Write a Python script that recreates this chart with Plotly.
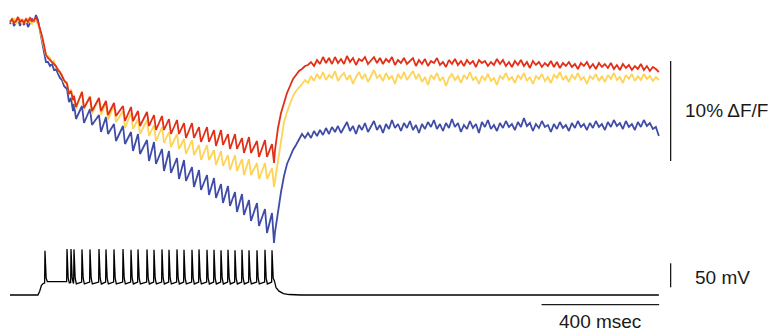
import numpy as np
import plotly.graph_objects as go

# ---------------- data ----------------
# Fluorescence, % dF/F.  Segment 1: 0 .. 183.7 ms (before the spike train)
RED_PRE = [-0.2, 0.1, -0.3, -0.1, 0.3, -0.2, 0.0, -0.3, 0.1, -0.2, 0.2, -0.1, 0.0, 0.3, -0.2,
           -0.8, -1.6, -2.5, -3.5, -3.8, -4.0, -4.2, -4.3, -4.6, -5.0, -5.2, -5.6, -6.0]
YEL_PRE = [0.0, -0.3, 0.2, -0.4, -0.1, 0.1, -0.4, 0.0, -0.3, 0.2, -0.2, -0.4, 0.1, -0.1, -0.4,
           -1.0, -1.8, -2.8, -3.6, -3.6, -3.8, -4.3, -4.1, -4.8, -4.9, -5.4, -5.5, -6.2]
BLU_PRE = [-0.4, 0.0, -0.6, -0.2, 0.1, -0.6, -0.1, -0.5, 0.0, -0.7, -0.3, 0.1, -0.2, 0.5, 0.0,
           -1.2, -2.2, -3.2, -4.2, -4.2, -4.6, -4.4, -5.0, -4.9, -5.4, -5.8, -6.0, -6.6]

# Spike times (ms) and membrane potential values (mV)
SPIKE_T = [119.0, 193.9, 207.5, 217.7, 244.9, 272.1, 302.7, 326.5, 353.7, 384.4,
           411.6, 435.4, 466.0, 489.8, 517.0, 540.8, 568.0, 591.8, 619.0, 642.9,
           670.1, 693.9, 717.7, 741.5, 765.3, 789.1, 812.9, 840.1, 867.3, 891.2]
SPIKE_PEAK = [22, 26, 26, 25, 25, 25, 26, 25, 25, 26, 24, 25, 25, 24, 25,
              24, 25, 24, 24, 25, 24, 24, 23, 24, 23, 24, 23, 23, 24, 23]
SPIKE_THRESH = [-45, -42, -44, -44, -43, -43, -43, -43, -43, -43, -43, -43, -43, -43, -43,
                -43, -43, -43, -43, -43, -43, -43, -43, -43, -43, -43, -43, -43, -43, -43]
SPIKE_AHP = [-42, -45, -46, -47, -47, -47, -47, -47, -47, -47, -47, -47, -47, -47, -47,
             -47, -47, -47, -47, -47, -47, -47, -47, -47, -47, -47, -47, -47, -47, -40]
SPIKE_SHOULDER = [-15, -35]
V_PRE_T = [0, 30, 60, 95, 101, 107, 113, 117]
V_PRE_MV = [-70, -70, -70, -70, -62, -50, -46, -45]
V_POST_T = [905, 915, 930, 950, 990, 1400, 1800, 2207]
V_POST_MV = [-55, -62, -67, -69, -70, -70, -70, -70]

# Fluorescence at each spike of the train: value at spike onset and just after it
RED_PK = [-6.4, -7.1, -7.6, -7.2, -7.7, -7.8, -8.1, -8.3, -8.6, -8.7, -9.1, -9.2, -9.5, -9.6, -9.9,
          -10.0, -10.3, -10.3, -10.7, -10.7, -11.0, -11.0, -11.4, -11.4, -11.8, -11.7, -12.1, -12.0, -12.4]
RED_TR = [-7.4, -8.0, -8.7, -8.8, -9.1, -9.1, -9.5, -9.6, -10.1, -10.1, -10.6, -10.6, -11.0, -11.0, -11.4,
          -11.4, -11.8, -11.8, -12.2, -12.2, -12.6, -12.5, -12.9, -12.9, -13.3, -13.3, -13.7, -13.7, -14.3]
YEL_PK = [-6.2, -6.9, -7.5, -7.1, -7.6, -7.8, -8.3, -8.5, -9.1, -9.3, -9.9, -10.0, -10.5, -10.7, -11.2,
          -11.4, -11.9, -12.0, -12.5, -12.5, -13.0, -13.1, -13.5, -13.5, -13.9, -13.9, -14.3, -14.3, -14.8]
YEL_TR = [-7.4, -8.1, -8.9, -8.9, -9.4, -9.5, -10.0, -10.2, -10.8, -10.9, -11.4, -11.6, -12.1, -12.3, -12.7,
          -12.9, -13.4, -13.5, -14.0, -14.0, -14.5, -14.6, -15.0, -15.1, -15.5, -15.5, -15.9, -15.9, -16.7]
BLU_PK = [-6.9, -7.8, -8.4, -8.6, -8.9, -9.5, -9.7, -10.4, -10.6, -11.2, -11.4, -12.0, -12.2, -12.9, -13.1,
          -13.8, -14.0, -14.7, -15.0, -15.5, -15.8, -16.4, -16.6, -17.2, -17.4, -18.0, -18.3, -18.9, -19.3]
BLU_TR = [-8.2, -9.1, -9.9, -10.3, -10.5, -11.2, -11.4, -12.1, -12.4, -13.1, -13.4, -14.1, -14.4, -15.1, -15.3,
          -15.9, -16.1, -16.7, -17.0, -17.5, -17.8, -18.3, -18.6, -19.2, -19.5, -20.1, -20.6, -21.3, -22.3]

# Segment 3: recovery, 901.4 .. 2207 ms
RED_POST = [-13.0, -10.8, -9.3, -8.2, -7.3, -6.6, -5.9, -5.5, -5.1, -4.9, -4.6, -4.5, -4.2, -4.6, -4.0,
            -4.4, -3.7, -4.3, -3.8, -4.4, -3.7, -4.3, -3.9, -4.4, -3.6, -4.2, -3.8, -4.5, -3.9, -4.1,
            -3.7, -4.4, -4.0, -3.7, -4.3, -3.8, -4.4, -3.9, -4.2, -3.7, -4.5, -4.0, -4.3, -3.8, -4.4,
            -4.1, -3.8, -4.6, -4.0, -4.4, -3.9, -4.6, -4.1, -4.3, -3.8, -4.5, -4.2, -4.7, -4.0, -4.4,
            -3.9, -4.5, -4.1, -4.6, -4.0, -4.4, -4.1, -4.7, -4.0, -4.3, -4.1, -4.6, -4.2, -4.5, -3.9,
            -4.4, -4.0, -4.6, -4.2, -4.7, -4.1, -4.5, -4.0, -4.6, -4.2, -4.8, -4.1, -4.5, -4.2, -4.7,
            -4.3, -4.6, -4.1, -4.7, -4.2, -4.8, -4.3, -4.6, -4.2, -4.7, -4.4, -4.9, -4.3, -4.6, -4.2,
            -4.8, -4.4, -4.9, -4.3, -4.7, -4.4, -4.8, -4.3, -4.9, -4.5, -5.0, -4.4, -4.8, -4.5, -5.0,
            -4.6, -4.9, -4.4, -5.0, -4.6, -5.1, -4.7, -4.9, -5.2]
YEL_POST = [-16.0, -14.0, -11.8, -10.2, -9.2, -8.3, -7.6, -7.1, -6.8, -6.4, -6.0, -6.3, -5.6, -6.1, -5.4,
            -5.9, -5.2, -6.0, -5.5, -5.8, -5.1, -6.1, -5.6, -5.3, -6.0, -5.5, -6.4, -5.7, -5.2, -5.9,
            -5.4, -6.2, -5.6, -5.0, -5.8, -5.5, -6.1, -5.3, -5.9, -5.6, -6.4, -5.4, -5.9, -5.2, -6.0,
            -5.6, -5.1, -5.9, -5.4, -6.2, -5.7, -6.5, -5.5, -5.9, -5.3, -6.1, -5.7, -6.6, -5.8, -5.4,
            -6.0, -5.6, -6.3, -5.5, -5.9, -5.2, -6.0, -5.7, -6.4, -5.6, -6.0, -5.4, -6.1, -5.8, -6.5,
            -5.6, -5.9, -5.3, -6.0, -5.7, -6.3, -5.5, -5.9, -5.3, -6.1, -5.7, -6.4, -5.6, -5.9, -5.4,
            -6.1, -5.7, -6.3, -5.5, -5.8, -5.2, -6.0, -5.6, -6.2, -5.5, -5.9, -5.3, -6.0, -5.7, -6.4,
            -5.6, -5.9, -5.4, -6.1, -5.6, -6.2, -5.5, -5.9, -5.3, -6.0, -5.7, -6.3, -5.5, -5.9, -5.4,
            -6.1, -5.6, -6.0, -5.4, -5.9, -5.6, -6.1, -5.7, -6.0]
BLU_POST = [-21.2, -19.0, -17.2, -15.6, -14.4, -13.7, -13.0, -12.5, -12.0, -11.4, -11.8, -11.3, -11.8, -11.1, -11.6,
            -11.0, -11.5, -10.8, -11.4, -10.7, -11.2, -10.6, -11.3, -10.8, -10.2, -11.1, -10.6, -11.4, -10.5, -11.0,
            -10.3, -11.2, -10.7, -10.1, -11.0, -10.5, -11.3, -10.4, -10.9, -10.0, -10.8, -10.4, -11.1, -10.3, -10.8,
            -10.1, -11.0, -10.5, -11.3, -10.4, -10.9, -10.2, -10.7, -10.0, -10.9, -10.4, -11.1, -10.3, -10.8, -9.9,
            -10.7, -10.3, -11.2, -10.5, -10.9, -10.1, -10.8, -10.4, -11.3, -10.2, -10.7, -10.0, -10.9, -10.5, -11.1,
            -10.3, -10.8, -10.1, -10.7, -10.4, -11.0, -10.2, -10.7, -9.8, -10.6, -10.3, -11.1, -10.4, -10.8, -10.1,
            -10.7, -10.5, -11.2, -10.4, -10.9, -10.2, -10.8, -10.5, -11.1, -10.3, -10.8, -10.1, -10.7, -10.4, -11.0,
            -10.3, -10.8, -10.1, -10.7, -10.4, -11.0, -10.2, -10.7, -10.0, -10.6, -10.3, -10.9, -10.1, -10.7, -10.4,
            -11.0, -10.2, -10.7, -10.0, -10.6, -10.3, -10.9, -10.7, -11.6]

# timing of the three fluorescence segments (ms)
T_PRE_END = 183.7
T_POST_START, T_POST_END = 901.4, 2207.0
T_AFTER_SPIKE = 6.8

# scale bars
BAR_DFF = 10       # %
BAR_MV = 50        # mV
BAR_MS = 400       # ms

COLORS = {"red": "rgb(226,48,24)", "yellow": "rgb(254,211,86)", "blue": "rgb(64,77,168)"}

# ---------------- build traces ----------------
train_t = []
for ts in SPIKE_T[1:]:
    train_t += [ts, ts + T_AFTER_SPIKE]


def fluo(pre, pk, tr, post):
    t = list(np.linspace(0, T_PRE_END, len(pre)))
    v = list(pre)
    t += train_t
    for p, q in zip(pk, tr):
        v += [p, q]
    t += list(np.linspace(T_POST_START, T_POST_END, len(post)))
    v += list(post)
    return t, v


vt = list(V_PRE_T)
vv = list(V_PRE_MV)
for i, ts in enumerate(SPIKE_T):
    vt += [ts - 1.2, ts, ts + 1.0, ts + 4.0, ts + 8.0]
    vv += [SPIKE_THRESH[i], SPIKE_PEAK[i], SPIKE_SHOULDER[0], SPIKE_SHOULDER[1], SPIKE_AHP[i]]
vt += V_POST_T
vv += V_POST_MV

fig = go.Figure()
for name, pre, pk, tr, post in [("blue", BLU_PRE, BLU_PK, BLU_TR, BLU_POST),
                                ("yellow", YEL_PRE, YEL_PK, YEL_TR, YEL_POST),
                                ("red", RED_PRE, RED_PK, RED_TR, RED_POST)]:
    t, v = fluo(pre, pk, tr, post)
    fig.add_trace(go.Scatter(x=t, y=v, mode="lines", line=dict(color=COLORS[name], width=1.8),
                             showlegend=False, hoverinfo="skip"))

fig.add_trace(go.Scatter(x=vt, y=vv, mode="lines", yaxis="y2",
                         line=dict(color="black", width=1.3), showlegend=False, hoverinfo="skip"))

# scale bars (data coordinates)
bar_x = 2247.0
dff_top = -4.1
mv_bottom = -54
ms_end = 2208.0
ms_y = -90.2
line_style = dict(color="#1a1a1a", width=1.3)
fig.add_shape(type="line", xref="x", yref="y", x0=bar_x, x1=bar_x, y0=dff_top, y1=dff_top - BAR_DFF,
              line=line_style)
fig.add_shape(type="line", xref="x", yref="y2", x0=bar_x, x1=bar_x, y0=mv_bottom, y1=mv_bottom + BAR_MV,
              line=line_style)
fig.add_shape(type="line", xref="x", yref="y2", x0=ms_end - BAR_MS, x1=ms_end, y0=ms_y, y1=ms_y,
              line=line_style)

font = dict(family="Liberation Sans, Arial, sans-serif", size=19, color="#1a1a1a")
fig.add_annotation(x=2289, y=-9.0, xref="x", yref="y", text=f"{BAR_DFF}% ΔF/F", showarrow=False,
                   xanchor="left", yanchor="middle", font=font)
fig.add_annotation(x=2323, y=-32.5, xref="x", yref="y2", text=f"{BAR_MV} mV", showarrow=False,
                   xanchor="left", yanchor="middle", font=font)
fig.add_annotation(x=ms_end - BAR_MS / 2, y=-126, xref="x", yref="y2", text=f"{BAR_MS} msec",
                   showarrow=False, xanchor="center", yanchor="middle", font=font)

hidden = dict(visible=False, showgrid=False, zeroline=False, fixedrange=True)
fig.update_layout(
    width=768, height=331, autosize=False,
    margin=dict(l=0, r=0, t=0, b=0, pad=0),
    paper_bgcolor="white", plot_bgcolor="white",
    xaxis=dict(range=[-34, 2578.2], **hidden),
    yaxis=dict(range=[-31.1, 2.0], **hidden),
    yaxis2=dict(range=[-145, 544.6], overlaying="y", **hidden),
)

fig.write_html("out.html", config={"displayModeBar": False, "staticPlot": True},
               post_script="document.body.style.margin='0';document.body.style.overflow='hidden';")
